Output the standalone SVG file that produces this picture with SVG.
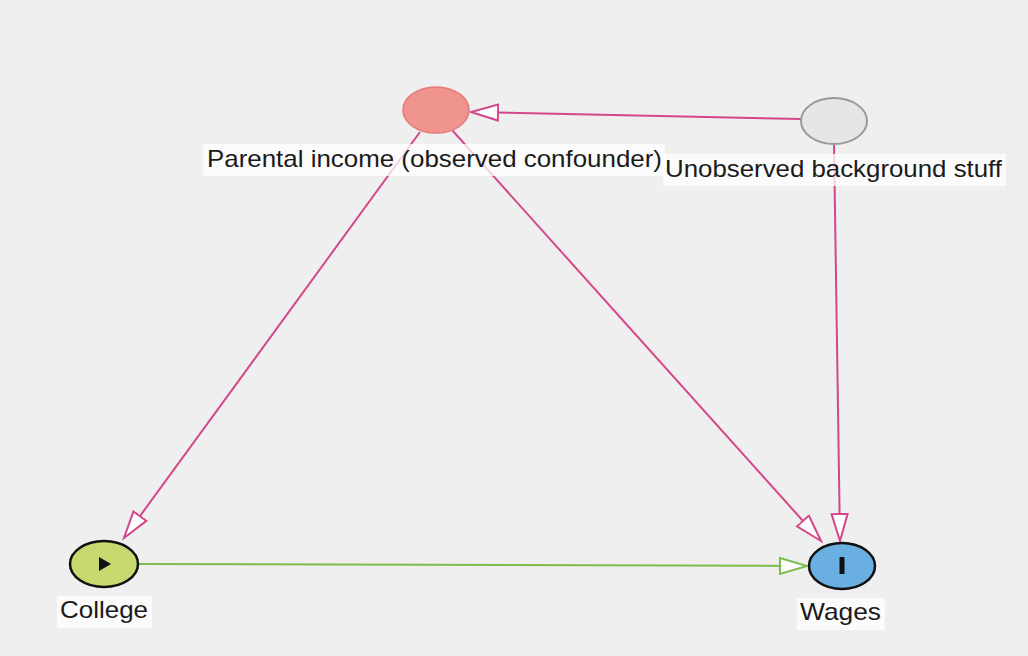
<svg xmlns="http://www.w3.org/2000/svg" width="1028" height="656" viewBox="0 0 1028 656">
<style>
.lbl{font-family:"Liberation Sans",Arial,sans-serif;font-size:24px;fill:#1a1a1a}
.lblbg{fill:#ffffff;fill-opacity:0.75}
.e-pink{stroke:#d4478a;stroke-width:2;fill:none}
.e-green{stroke:#7cbd4e;stroke-width:2;fill:none}
</style>
<defs>
<marker id="ap" markerUnits="userSpaceOnUse" markerWidth="32" markerHeight="20" refX="28" refY="9" orient="auto" viewBox="0 0 32 18">
<path d="M1,1 L28,9 L1,17 Z" fill="#ffffff" stroke="#d4478a" stroke-width="2"/>
</marker>
<marker id="ag" markerUnits="userSpaceOnUse" markerWidth="32" markerHeight="20" refX="28" refY="9" orient="auto" viewBox="0 0 32 18">
<path d="M1,1 L28,9 L1,17 Z" fill="#ffffff" stroke="#7cbd4e" stroke-width="2"/>
</marker>
</defs>
<rect width="1028" height="656" fill="#efefef"/>
<g id="connectors">
<line class="e-pink" x1="801" y1="119" x2="471" y2="112" marker-end="url(#ap)"/>
<line class="e-pink" x1="420" y1="132" x2="124" y2="538" marker-end="url(#ap)"/>
<line class="e-pink" x1="452" y1="130" x2="821" y2="541" marker-end="url(#ap)"/>
<line class="e-pink" x1="834" y1="145" x2="840" y2="541" marker-end="url(#ap)"/>
<line class="e-green" x1="139" y1="564" x2="807" y2="566" marker-end="url(#ag)"/>
</g>
<g id="node-parental">
<ellipse cx="436" cy="110" rx="33" ry="23" fill="#f0948f" stroke="#e67a76" stroke-width="1.5"/>
<rect class="lblbg" x="203" y="144" width="462" height="32"/>
<text class="lbl" x="207" y="167" textLength="455" lengthAdjust="spacingAndGlyphs">Parental income (observed confounder)</text>
</g>
<g id="node-unobserved">
<ellipse cx="834" cy="121" rx="33" ry="23" fill="#e6e6e6" stroke="#999999" stroke-width="2"/>
<rect class="lblbg" x="663" y="154" width="343" height="32"/>
<text class="lbl" x="665" y="177" textLength="337" lengthAdjust="spacingAndGlyphs">Unobserved background stuff</text>
</g>
<g id="node-college">
<ellipse cx="104" cy="564" rx="34" ry="23" fill="#c6d86e" stroke="#111111" stroke-width="2.5"/>
<path d="M99,557 L111,564 L99,571 Z" fill="#111111"/>
<rect class="lblbg" x="57" y="596" width="95" height="32"/>
<text class="lbl" x="60" y="618" textLength="88" lengthAdjust="spacingAndGlyphs">College</text>
</g>
<g id="node-wages">
<ellipse cx="842" cy="566" rx="33" ry="23" fill="#6aafe2" stroke="#111111" stroke-width="2.5"/>
<rect x="839.5" y="557" width="5" height="17" fill="#111111"/>
<rect class="lblbg" x="797" y="598" width="88" height="32"/>
<text class="lbl" x="800" y="620" textLength="81" lengthAdjust="spacingAndGlyphs">Wages</text>
</g>
</svg>
